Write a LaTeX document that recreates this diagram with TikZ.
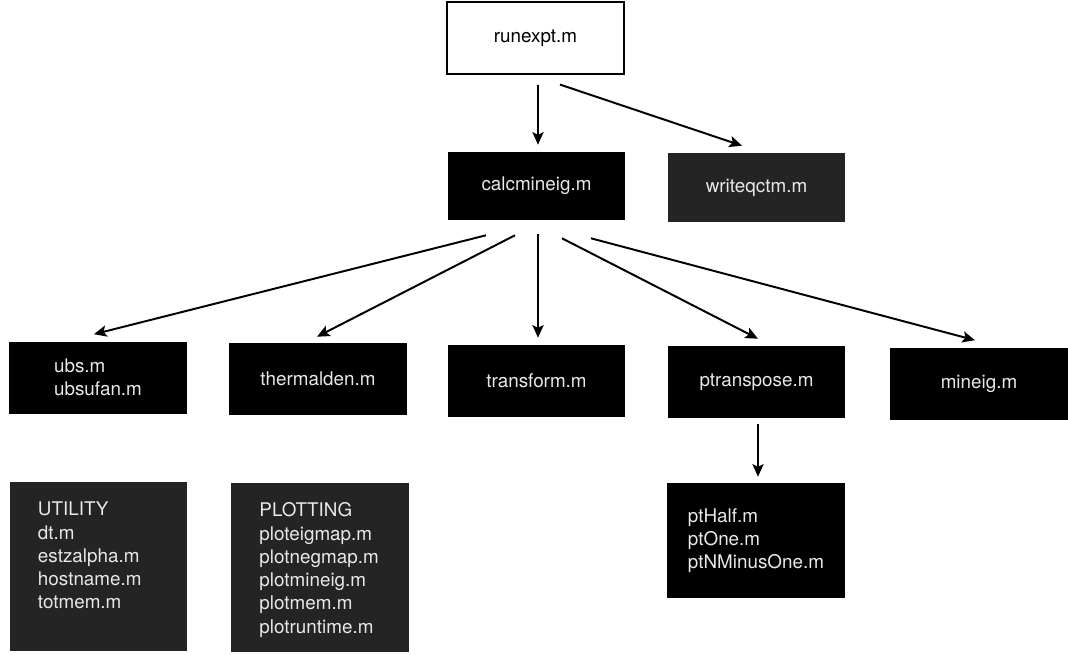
\documentclass[tikz,border=0pt]{standalone}
\usepackage{fontspec}
\setmainfont{TeX Gyre Heros}
\usepackage{xcolor}
\usepackage{tikz}
\usetikzlibrary{arrows.meta, positioning}

\definecolor{boxgray}{HTML}{242424}
\definecolor{boxtext}{HTML}{E8E8E8}

\begin{document}
\begin{tikzpicture}[
    x=0.025cm, y=-0.025cm,
    mfile/.style={rectangle, minimum width=4.425cm, minimum height=1.8cm, inner sep=0pt, fill=black, text=boxtext, font=\fontsize{13.4pt}{16.5pt}\selectfont},
    topfile/.style={mfile, draw=black, line width=0.8pt, fill=white, text=black},
    grayfile/.style={mfile, fill=boxgray},
    listbox/.style={grayfile, align=left, text width=3.025cm, text height=0.85cm, text depth=3.375cm, minimum height=4.225cm},
    link/.style={-{Stealth[length=9pt,width=8pt,inset=2pt]}, line width=1.4pt}
]
\useasboundingbox (0,0) rectangle (1068,654);

% Top level
\node[topfile] (run) at (535.5,38) {runexpt.m};
\node[mfile, minimum height=1.7cm] (calc) at (536.5,186) {calcmineig.m};
\node[grayfile, minimum height=1.725cm] (write) at (756.5,187.5) {writeqctm.m};

% Called by calcmineig
\node[mfile, align=left] (ubs) at (98,377.5) {ubs.m\\ubsufan.m};
\node[mfile] (therm) at (318,379) {thermalden.m};
\node[mfile] (trans) at (536.5,381) {transform.m};
\node[mfile] (ptrans) at (756.5,382) {ptranspose.m};
\node[mfile] (mineig) at (979,383.5) {mineig.m};

% Helpers
\node[listbox] (util) at (98.5,566.5) {UTILITY\\dt.m\\estzalpha.m\\hostname.m\\totmem.m};
\node[listbox] (plot) at (320,567.5) {PLOTTING\\ploteigmap.m\\plotnegmap.m\\plotmineig.m\\plotmem.m\\plotruntime.m};
\node[mfile, align=left, minimum height=2.875cm] (pt) at (756,540.5) {ptHalf.m\\ptOne.m\\ptNMinusOne.m};

% Arrows
\draw[link] ([shift={(2.5,10)}]run.south) -- ([shift={(1.5,-7)}]calc.north);
\draw[link] ([shift={(24.5,10)}]run.south) -- ([shift={(-14.5,-7)}]write.north);

\draw[link] ([shift={(-50.5,15)}]calc.south) -- ([shift={(-4,-7)}]ubs.north);
\draw[link] ([shift={(-21.5,15)}]calc.south) -- ([shift={(-1,-6)}]therm.north);
\draw[link] ([shift={(1.5,14)}]calc.south) -- ([shift={(1.5,-7)}]trans.north);
\draw[link] ([shift={(25.5,18)}]calc.south) -- ([shift={(1.5,-7)}]ptrans.north);
\draw[link] ([shift={(54.5,18)}]calc.south) -- ([shift={(-4,-7)}]mineig.north);

\draw[link] ([shift={(1.5,6)}]ptrans.south) -- ([shift={(2,-6)}]pt.north);

\end{tikzpicture}
\end{document}
